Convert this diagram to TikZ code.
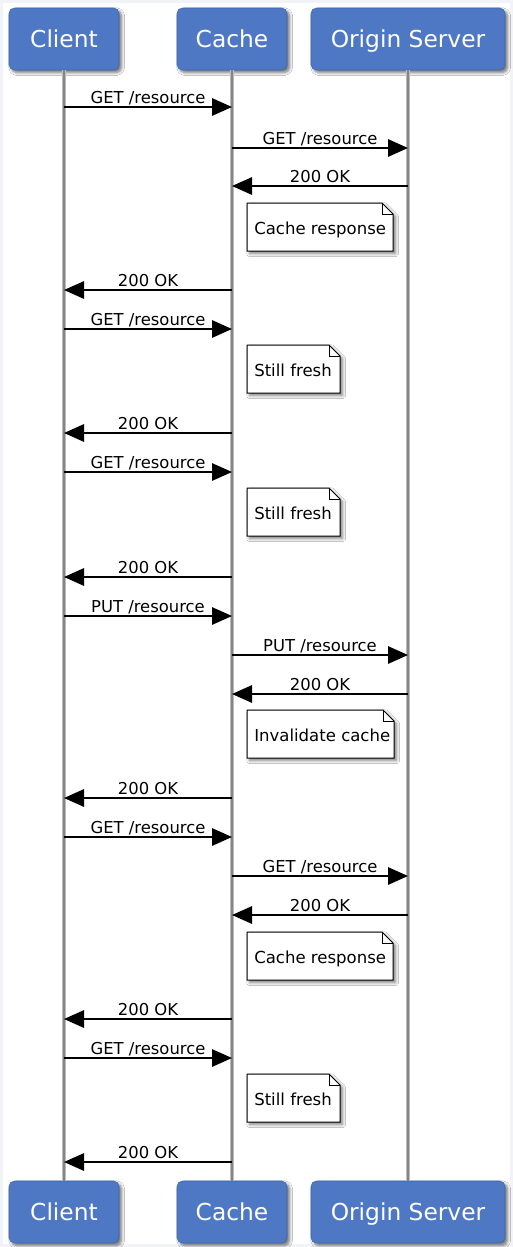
\documentclass[tikz,border=0pt]{standalone}
\usepackage{fontspec}
\setmainfont{DejaVu Sans}
\usetikzlibrary{arrows.meta,shadows.blur,calc}
\definecolor{boxblue}{HTML}{4E78C4}
\definecolor{boxedge}{HTML}{3F66AE}
\definecolor{lifegray}{HTML}{858585}
\definecolor{lifelight}{HTML}{BDBDBD}
\definecolor{bgframe}{HTML}{F2F3F7}
\newcommand\mynote[5]{%
  \draw[notebox] (#1,#2) -- ({#3-11},#2) -- (#3,{#2+11}) -- (#3,#4) -- (#1,#4) -- cycle;
  \draw[line width=0.6pt] ({#3-11},#2) -- ({#3-11},{#2+11}) -- (#3,{#2+11});
  \node[notetext] at ({#1+7},{(#2+#4)/2+7}) {#5};
}
\newcommand\mymsg[4]{%
  \draw[msg] (#1 |- 0,#3) -- (#2 |- 0,#3) node[midway,lbl,yshift=3pt] {#4};
}
\begin{document}
\begin{tikzpicture}[x=0.75pt,y=-0.75pt,
  actor/.style={rectangle, rounded corners=4pt, fill=boxblue, draw=boxedge, line width=0.4pt,
    text=white, font=\fontsize{17.5}{20}\selectfont, text height=12.6pt, text depth=0pt,
    minimum height=46.5pt, inner sep=0pt,
    blur shadow={shadow xshift=2pt, shadow yshift=-2pt, shadow blur steps=6, shadow opacity=55}},
  lifeline/.style={draw=lifelight, line width=2.3pt,
    postaction={draw=lifegray, line width=1pt}},
  msg/.style={draw=black, line width=1.5pt, -{Triangle[length=15pt,width=13pt]}},
  lbl/.style={font=\fontsize{12.3}{14}\selectfont, anchor=base, inner sep=0pt},
  notebox/.style={fill=white, draw=black, line width=0.75pt,
    blur shadow={shadow xshift=2pt, shadow yshift=-2pt, shadow blur steps=6, shadow opacity=50}},
  notetext/.style={font=\fontsize{12.4}{14}\selectfont, anchor=base west, inner sep=0pt},
]
\useasboundingbox (0,0) rectangle (513,1247);
\fill[bgframe] (0,0) rectangle (513,1247);
\fill[white] (3,3) rectangle (510,1244);

% actors
\node[actor, minimum width=82.5pt] (cT) at (64,39) {Client};
\node[actor, minimum width=82.5pt] (aT) at (232,39) {Cache};
\node[actor, minimum width=145.5pt] (oT) at (408,39) {Origin Server};
\node[actor, minimum width=82.5pt] (cB) at (64,1212) {Client};
\node[actor, minimum width=82.5pt] (aB) at (232,1212) {Cache};
\node[actor, minimum width=145.5pt] (oB) at (408,1212) {Origin Server};

% lifelines
\draw[lifeline] (cT.south) -- (cB.north);
\draw[lifeline] (aT.south) -- (aB.north);
\draw[lifeline] (oT.south) -- (oB.north);

% messages
\mymsg{cT}{aT}{107}{GET /resource}
\mymsg{aT}{oT}{148}{GET /resource}
\mymsg{oT}{aT}{186}{200 OK}
\mynote{247}{203}{393}{251}{Cache response}
\mymsg{aT}{cT}{290}{200 OK}
\mymsg{cT}{aT}{329}{GET /resource}
\mynote{247}{345}{340}{393}{Still fresh}
\mymsg{aT}{cT}{433}{200 OK}
\mymsg{cT}{aT}{472}{GET /resource}
\mynote{247}{488}{340}{536}{Still fresh}
\mymsg{aT}{cT}{577}{200 OK}
\mymsg{cT}{aT}{616}{PUT /resource}
\mymsg{aT}{oT}{655}{PUT /resource}
\mymsg{oT}{aT}{694}{200 OK}
\mynote{247}{710}{394}{758}{Invalidate cache}
\mymsg{aT}{cT}{798}{200 OK}
\mymsg{cT}{aT}{837}{GET /resource}
\mymsg{aT}{oT}{876}{GET /resource}
\mymsg{oT}{aT}{915}{200 OK}
\mynote{247}{932}{393}{980}{Cache response}
\mymsg{aT}{cT}{1019}{200 OK}
\mymsg{cT}{aT}{1058}{GET /resource}
\mynote{247}{1074}{340}{1122}{Still fresh}
\mymsg{aT}{cT}{1162}{200 OK}
\end{tikzpicture}
\end{document}
